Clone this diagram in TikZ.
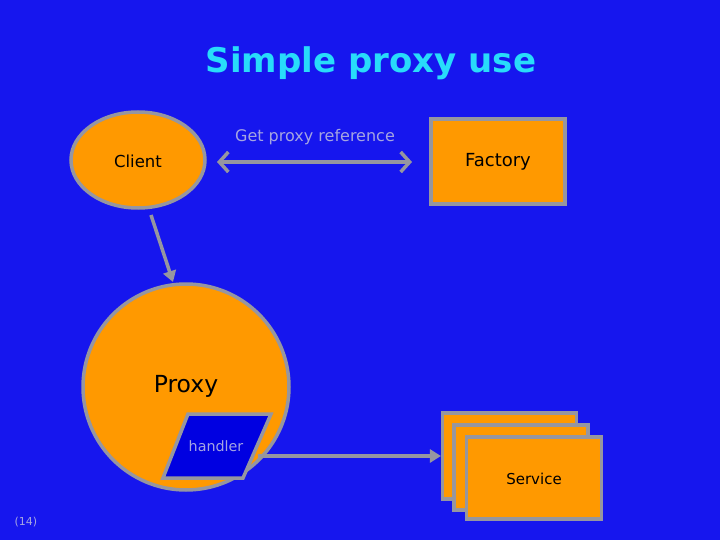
\documentclass[tikz,border=0pt]{standalone}
\usepackage{fontspec}
\setmainfont{DejaVu Sans}
\usetikzlibrary{arrows.meta,shapes.geometric}
\definecolor{bg}{RGB}{22,22,238}
\definecolor{org}{RGB}{255,153,0}
\definecolor{gr}{RGB}{150,150,160}
\definecolor{ttl}{RGB}{40,220,250}
\definecolor{lbl}{RGB}{165,165,225}
\definecolor{hblue}{RGB}{0,0,225}
\tikzset{
  shp/.style={fill=org, draw=gr, line width=3.5pt},
  conn/.style={draw=gr, line width=3.5pt},
  txt/.style={text=black, font=\fontsize{17}{20}\selectfont},
}
\begin{document}
\begin{tikzpicture}[x=1pt,y=-1pt]
\fill[bg] (0,0) rectangle (720,540);
\useasboundingbox (0,0) rectangle (720,540);
\node[text=ttl, font=\fontsize{34}{40}\selectfont\bfseries] (title) at (371,63) {Simple proxy use};
\node[shp, ellipse, minimum width=134pt, minimum height=96pt, inner sep=0pt] (client) at (138,160) {};
\node[txt, font=\fontsize{16.5}{20}\selectfont] at (138,161) {Client};
\node[shp, rectangle, minimum width=134pt, minimum height=85pt] (factory) at (498,161.5) {};
\node[txt, font=\fontsize{18}{22}\selectfont] at (498,161.5) {Factory};
\node[text=lbl, font=\fontsize{16}{19}\selectfont] (getlbl) at (315,137) {Get proxy reference};
\coordinate (fl) at (217,162);
\coordinate (fr) at (412,162);
\draw[conn, {Straight Barb[length=9pt,width=20pt]}-{Straight Barb[length=9pt,width=20pt]}] (fl) -- (fr);
\node[shp, circle, minimum size=206pt, inner sep=0pt] (proxy) at (186,387) {};
\node[txt, font=\fontsize{23.5}{28}\selectfont] at (186,386) {Proxy};
\coordinate (cs) at (151,215);
\coordinate (pe) at (173,282);
\draw[conn, -{Triangle[length=11pt,width=13pt]}] (cs) -- (pe);
\draw[fill=hblue, draw=gr, line width=3.5pt] (188,414) coordinate (h1) -- (271,414) -- (243,478) -- (163,478) -- cycle;
\node[text=lbl, font=\fontsize{14.3}{17}\selectfont] (handler) at (216,446) {handler};
\node[shp, rectangle, minimum width=134pt, minimum height=86pt] (s1) at (509.7,456) {};
\node[shp, rectangle, minimum width=134pt, minimum height=85pt] (s2) at (521,467.5) {};
\node[shp, rectangle, minimum width=135pt, minimum height=82pt] (s3) at (534,478) {};
\node[txt, font=\fontsize{15}{18}\selectfont] at (534,479) {Service};
\coordinate (hs) at (258,456);
\draw[conn, -{Triangle[length=11pt,width=13pt]}] (hs) -- (s1.west |- hs);
\node[text=lbl, font=\fontsize{11}{13}\selectfont] (pg) at (26,522) {(14)};
\end{tikzpicture}
\end{document}
